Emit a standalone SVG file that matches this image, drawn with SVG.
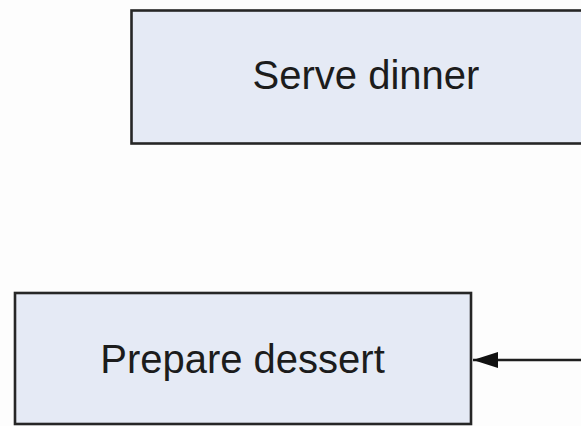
<svg xmlns="http://www.w3.org/2000/svg" width="581" height="426" viewBox="0 0 581 426">
<style>
.box{fill:#e5eaf5;stroke:#262626;stroke-width:2.6}
.lbl{font-family:"Liberation Sans",Arial,sans-serif;font-size:40px;fill:#1c1c1c;text-anchor:middle}
.conn{stroke:#1e1e1e;stroke-width:2.6;fill:none}
</style>
<defs>
<marker id="ah" markerUnits="userSpaceOnUse" markerWidth="28" markerHeight="20" refX="26" refY="10" orient="auto">
<polygon points="1,2 26,10 1,18" fill="#111"/>
</marker>
</defs>
<rect width="581" height="426" fill="#fdfdfd"/>
<g id="serve-dinner">
<rect class="box" x="131.5" y="10.5" width="500" height="133"/>
<text class="lbl" x="366" y="89">Serve dinner</text>
</g>
<g id="prepare-dessert">
<rect class="box" x="15" y="293" width="456" height="131"/>
<text class="lbl" x="242.5" y="373">Prepare dessert</text>
</g>
<g id="connectors">
<line class="conn" x1="581" y1="360" x2="473" y2="360" marker-end="url(#ah)"/>
</g>
</svg>
